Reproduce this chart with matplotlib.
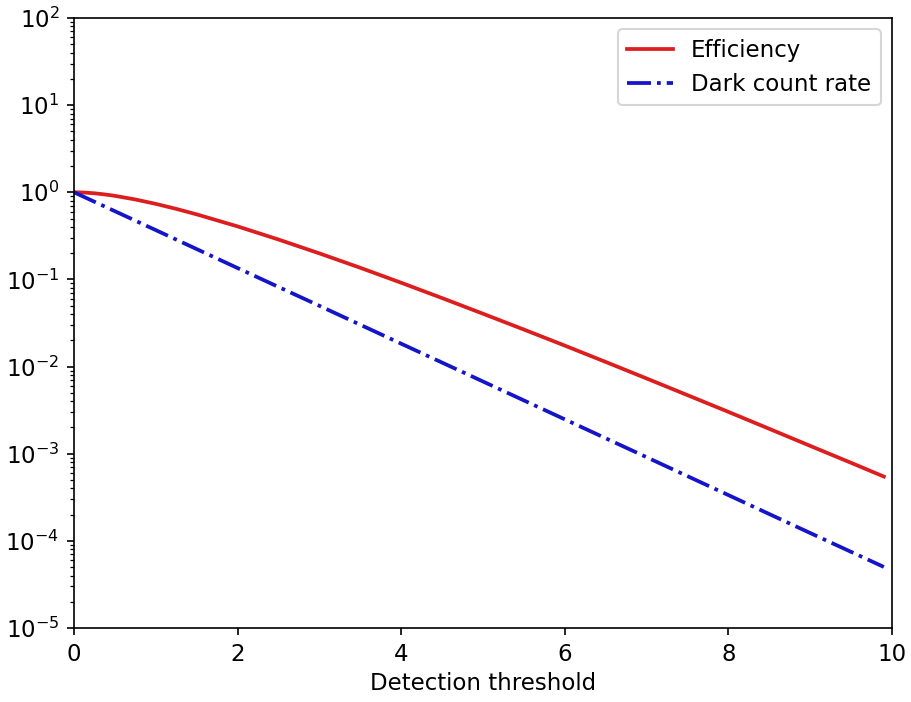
#!/usr/bin/env python3
"""
Efficiency and dark count rate against detection threshold.
"""
import matplotlib
matplotlib.use('Agg')
import matplotlib.pyplot as plt

# Values (log scale)
threshold = [0, 0.125, 0.25, 0.375, 0.5, 0.75, 1, 1.25, 1.5, 2, 2.5, 3, 3.5,
             4, 4.5, 5, 5.5, 6, 6.5, 7, 7.5, 8, 8.5, 9, 9.5, 9.9]
efficiency = [1.0, 0.993, 0.974, 0.945, 0.910, 0.827, 0.736, 0.645, 0.558,
              0.406, 0.287, 0.199, 0.136, 0.0916, 0.0611, 0.0404, 0.0266,
              0.0174, 0.0113, 0.0073, 0.0047, 0.00302, 0.00193, 0.00123,
              0.000786, 0.000547]

dark_x = [0, 1, 2, 3, 4, 5, 6, 7, 8, 9, 9.9]
dark_rate = [1.0, 0.368, 0.135, 0.0498, 0.0183, 0.00674, 0.00248, 0.000912,
             0.000335, 0.000123, 5.02e-5]

plt.rcParams['font.size'] = 11

dpi = 150
fig = plt.figure(figsize=(911 / dpi, 702 / dpi), dpi=dpi)
ax = fig.add_axes([74 / 911, 1 - 628 / 702, (892 - 74) / 911, (628 - 18) / 702])

ax.semilogy(threshold, efficiency, color='#dc1e1e', lw=1.8, label='Efficiency')
ax.semilogy(dark_x, dark_rate, '-.', color='#1414c8', lw=1.8,
            label='Dark count rate')

ax.set_xlim(0, 10)
ax.set_ylim(1e-5, 1e2)
ax.set_xlabel('Detection threshold', labelpad=3)
ax.legend(loc='upper right')

fig.savefig('out.png', dpi=dpi)
